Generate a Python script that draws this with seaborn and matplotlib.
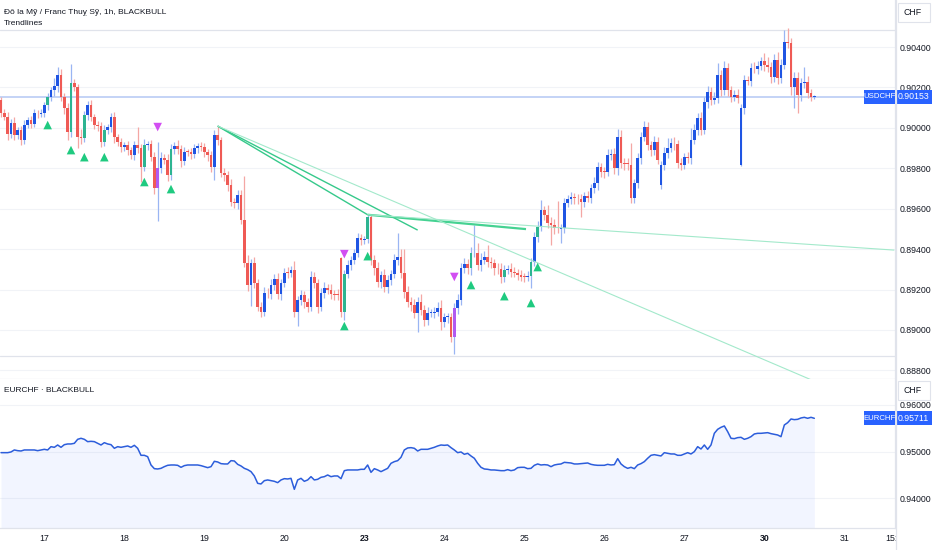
import numpy as np
import matplotlib
matplotlib.use("Agg")
import matplotlib.pyplot as plt
from matplotlib.patches import Rectangle
from matplotlib.lines import Line2D
from matplotlib.ticker import FormatStrFormatter
import seaborn as sns

# ─────────────────────────────────────────────
# DATA  (USDCHF 1h candles, prices in 1e-5 CHF points)
# ─────────────────────────────────────────────
close_pts = [
    90072, 90055, 89970, 90022, 89965, 89990, 89940, 90014, 90039, 90017,
    90072, 90068, 90072, 90113, 90154, 90187, 90205, 90262, 90154, 90096,
    89981, 90224, 90204, 89956, 89948, 90063, 90113, 90055, 90014, 90010,
    89931, 89990, 90006, 90055, 89956, 89931, 89907, 89915, 89890, 89865,
    89915, 89898, 89808, 89915, 89920, 89857, 89700, 89800, 89849, 89840,
    89766, 89893, 89910, 89895, 89835, 89882, 89880, 89872, 89898, 89910,
    89905, 89882, 89865, 89808, 89964, 89940, 89775, 89765, 89717, 89634,
    89628, 89667, 89544, 89329, 89222, 89332, 89230, 89115, 89090, 89181,
    89178, 89222, 89250, 89180, 89230, 89283, 89280, 89296, 89090, 89148,
    89172, 89139, 89115, 89263, 89230, 89115, 89181, 89205, 89200, 89180,
    89172, 89168, 89090, 89276, 89320, 89346, 89379, 89453, 89445, 89450,
    89557, 89346, 89304, 89238, 89271, 89214, 89247, 89276, 89346, 89360,
    89280, 89189, 89139, 89123, 89082, 89139, 89098, 89049, 89085, 89085,
    89090, 89107, 89040, 89065, 89065, 88966, 89110, 89148, 89304, 89325,
    89304, 89379, 89382, 89321, 89346, 89362, 89337, 89329, 89304, 89300,
    89263, 89296, 89300, 89288, 89280, 89271, 89263, 89260, 89265, 89337,
    89460, 89510, 89593, 89568, 89527, 89519, 89502, 89500, 89505, 89626,
    89646, 89659, 89651, 89648, 89634, 89662, 89655, 89700, 89725, 89808,
    89783, 89780, 89865, 89870, 89799, 89956, 89824, 89820, 89818, 89651,
    89725, 89849, 89956, 90006, 89915, 89890, 89932, 89841, 89816, 89874,
    89900, 89923, 89920, 89824, 89816, 89857, 89850, 89940, 89989, 90047,
    89989, 90130, 90179, 90138, 90146, 90261, 90187, 90294, 90187, 90154,
    90162, 90146, 90096, 90237, 90230, 90294, 90290, 90306, 90331, 90311,
    90303, 90253, 90336, 90245, 90311, 90426, 90418, 90204, 90245, 90162,
    90220, 90228, 90171, 90153, 90153,
]
wick_up_pts = [
    15, 20, 25, 20, 30, 15, 20, 25, 15, 20,
    20, 15, 20, 15, 20, 15, 40, 41, 30, 20,
    25, 92, 20, 15, 40, 20, 20, 25, 15, 20,
    20, 25, 15, 20, 25, 15, 20, 15, 20, 15,
    20, 91, 20, 30, 15, 20, 25, 130, 30, 20,
    30, 25, 20, 30, 20, 25, 15, 20, 20, 15,
    20, 20, 15, 20, 25, 45, 15, 25, 20, 30,
    20, 25, 25, 216, 40, 20, 30, 20, 25, 30,
    25, 30, 25, 30, 20, 25, 30, 20, 45, 20,
    25, 20, 20, 30, 25, 20, 25, 30, 20, 25,
    20, 30, 4, 20, 25, 20, 20, 25, 20, 15,
    13, 15, 25, 30, 20, 30, 25, 20, 30, 118,
    40, 120, 30, 25, 30, 25, 40, 25, 30, 20,
    25, 30, 40, 20, 20, 20, 25, 30, 25, 30,
    25, 30, 137, 48, 35, 30, 60, 25, 20, 25,
    30, 25, 20, 30, 25, 20, 25, 20, 25, 20,
    25, 30, 50, 20, 50, 30, 30, 138, 20, 25,
    20, 25, 20, 20, 25, 20, 25, 20, 30, 25,
    20, 25, 30, 25, 30, 40, 33, 25, 30, 105,
    20, 25, 25, 30, 25, 20, 30, 25, 20, 30,
    50, 25, 30, 20, 25, 20, 25, 60, 30, 25,
    30, 25, 30, 25, 30, 60, 25, 35, 25, 20,
    25, 30, 20, 25, 20, 25, 30, 25, 20, 40,
    40, 25, 30, 40, 30, 58, 70, 25, 30, 30,
    25, 75, 30, 20, 10,
]
wick_dn_pts = [
    20, 15, 30, 20, 25, 20, 25, 20, 15, 20,
    15, 20, 15, 20, 25, 20, 30, 25, 20, 25,
    41, 25, 20, 56, 30, 20, 25, 20, 20, 25,
    25, 20, 20, 25, 30, 20, 25, 20, 25, 20,
    25, 20, 75, 20, 25, 20, 25, 160, 25, 20,
    30, 25, 20, 25, 30, 20, 20, 25, 20, 20,
    20, 25, 30, 25, 68, 25, 20, 30, 30, 20,
    25, 30, 20, 20, 30, 102, 25, 20, 25, 20,
    20, 25, 25, 25, 30, 20, 25, 20, 25, 70,
    25, 30, 25, 20, 25, 30, 20, 25, 20, 25,
    25, 20, 25, 41, 20, 25, 20, 20, 25, 20,
    20, 25, 30, 25, 30, 25, 30, 25, 20, 25,
    25, 30, 25, 30, 25, 92, 25, 30, 25, 20,
    25, 20, 40, 25, 30, 25, 86, 30, 25, 20,
    25, 30, 20, 25, 30, 20, 25, 25, 30, 25,
    30, 25, 20, 25, 20, 25, 20, 25, 20, 60,
    20, 25, 20, 25, 25, 99, 25, 20, 70, 25,
    20, 25, 30, 25, 74, 25, 20, 25, 20, 30,
    25, 30, 20, 25, 25, 30, 25, 30, 25, 25,
    25, 25, 30, 20, 25, 30, 25, 20, 20, 25,
    25, 20, 30, 25, 25, 20, 25, 30, 20, 25,
    25, 20, 30, 25, 20, 25, 30, 25, 30, 25,
    20, 25, 5, 25, 20, 25, 20, 25, 20, 30,
    25, 30, 25, 30, 25, 20, 25, 40, 108, 90,
    30, 25, 25, 20, 10,
]
# bars whose open is not the previous close (session gaps)
gap_bars = [0, 102, 198, 222]
gap_open_pts = [90138, 89356, 89717, 89816]

# indicator-coloured candles and their markers
teal_bars = [14, 21, 25, 31, 43, 51, 103, 110, 141, 151, 159, 161]
purple_bars = [47, 136]
up_mark_pts = [90014, 89890, 89855, 89855, 89732, 89697,
               89019, 89365, 89222, 89167, 89133, 89311]
down_mark_bars = [47, 103, 136]
down_mark_pts = [90004, 89375, 89262]

# trendlines (bar index, price)
trend_x0 = [65, 65, 110, 65, 110]
trend_y0 = [0.90009, 0.90009, 0.89570, 0.90009, 0.89570]
trend_x1 = [125, 110, 157.5, 268, 268]
trend_y1 = [0.89494, 0.89570, 0.89499, 0.88577, 0.89395]

# EURCHF comparison line, same bars
eurchf_pts = [
    94975, 94975, 94975, 94990, 95033, 95018, 95011, 95033, 95033, 95033,
    95033, 95018, 95033, 95047, 95033, 95104, 95090, 95140, 95090, 95147,
    95162, 95162, 95176, 95262, 95284, 95262, 95212, 95219, 95212, 95176,
    95140, 95190, 95162, 95147, 95069, 95104, 95090, 95104, 95119, 95090,
    95133, 95069, 94918, 94918, 94889, 94710, 94631, 94624, 94638, 94674,
    94703, 94710, 94710, 94703, 94660, 94696, 94710, 94710, 94710, 94710,
    94696, 94674, 94653, 94674, 94789, 94775, 94739, 94732, 94732, 94803,
    94796, 94724, 94689, 94638, 94610, 94567, 94474, 94316, 94302, 94373,
    94388, 94373, 94359, 94330, 94388, 94416, 94409, 94423, 94187, 94388,
    94423, 94359, 94388, 94459, 94388, 94402, 94445, 94459, 94495, 94459,
    94474, 94474, 94416, 94588, 94603, 94603, 94603, 94603, 94617, 94617,
    94710, 94552, 94631, 94603, 94567, 94603, 94638, 94746, 94782, 94803,
    94875, 95033, 95076, 95083, 95069, 95011, 95047, 95047, 95047, 95069,
    95090, 95119, 95140, 95133, 95140, 95083, 95033, 94975, 94990, 94940,
    94961, 94904, 94854, 94746, 94660, 94624, 94617, 94603, 94603, 94595,
    94588, 94588, 94610, 94588, 94603, 94653, 94660, 94660, 94631, 94638,
    94703, 94732, 94710, 94717, 94710, 94674, 94710, 94724, 94732, 94767,
    94760, 94753, 94732, 94732, 94739, 94746, 94753, 94724, 94710, 94703,
    94703, 94703, 94724, 94710, 94717, 94846, 94732, 94674, 94638, 94660,
    94631, 94710, 94739, 94782, 94854, 94918, 94932, 94918, 94904, 94975,
    94961, 94947, 94947, 94918, 94918, 94947, 94975, 94947, 94997, 95104,
    95054, 95140, 95047, 95140, 95391, 95477, 95520, 95549, 95427, 95284,
    95276, 95298, 95305, 95262, 95284, 95319, 95377, 95391, 95391, 95398,
    95405, 95384, 95370, 95355, 95319, 95570, 95620, 95699, 95685, 95692,
    95721, 95735, 95714, 95735, 95714,
]

day_ticks = [13, 37, 61, 85, 109, 133, 157, 181, 205, 229, 253, 267]
day_labels = ["17", "18", "19", "20", "23", "24", "25", "26", "27", "30", "31", "15:"]
bold_labels = ["23", "30"]
usd_ticks = [0.888, 0.890, 0.892, 0.894, 0.896, 0.898, 0.900, 0.902, 0.904]
eur_ticks = [0.940, 0.950, 0.960]
border_levels = [0.90484, 0.88870]
last_usd = 0.90153
last_eur = 0.95711

# ─────────────────────────────────────────────
# PREP
# ─────────────────────────────────────────────
c = np.array(close_pts) / 1e5
o = np.r_[c[0], c[:-1]]
o[gap_bars] = np.array(gap_open_pts) / 1e5
h = np.maximum(o, c) + np.array(wick_up_pts) / 1e5
l = np.minimum(o, c) - np.array(wick_dn_pts) / 1e5
bars = np.arange(len(c))
eur = np.array(eurchf_pts) / 1e5

BLUE, RED = "#1f55e3", "#ef5a55"
TEAL, PURPLE = "#2db491", "#b05af2"
up = c >= o
body_col = np.where(up, BLUE, RED).astype(object)
body_col[teal_bars] = TEAL
body_col[purple_bars] = PURPLE
wick_col = np.where(up, "#9ab5f3", "#f4a7a4")
body_h = np.where(np.abs(c - o) < 4e-5, 4e-5, c - o)

# ─────────────────────────────────────────────
# FIGURE
# ─────────────────────────────────────────────
sns.set_theme(style="white")
plt.rcParams["font.family"] = ["Liberation Sans Narrow", "Liberation Sans", "DejaVu Sans"]
TXT = "#131722"
GRID = "#f1f3f7"
EDGE = "#e0e3eb"
FS = 6.3
TAG_FS = 5.6

W, H = 932, 550
fig = plt.figure(figsize=(W / 100, H / 100), dpi=100)
ax = fig.add_axes([0, 1 - 379 / H, 895 / W, 379 / H])
ax2 = fig.add_axes([0, 1 - 528 / H, 895 / W, 149 / H])
XL = (-0.3, 268.2)

# main pane
ax.set_xlim(*XL)
ax.set_ylim(0.88757, 0.90633)
ax.set_yticks(usd_ticks)
ax.yaxis.set_major_formatter(FormatStrFormatter("%.5f"))
ax.yaxis.tick_right()
ax.tick_params(axis="y", length=0, pad=3.5, labelsize=FS, labelcolor=TXT)
ax.set_xticks([])
ax.grid(axis="y", color=GRID, lw=0.8)
ax.grid(axis="x", visible=False)
for lvl in border_levels:
    ax.axhline(lvl, color=EDGE, lw=0.9, zorder=1)
ax.axhline(last_usd, color="#bfd0f6", lw=1.3, zorder=1.5)

ax.vlines(bars, l, h, colors=wick_col, lw=0.9, zorder=2)
ax.bar(bars, body_h, bottom=o, width=0.8, color=body_col, linewidth=0, zorder=3)

trend_style = [("#36c98b", 1.0), ("#36c98b", 1.0), ("#45d292", 1.6),
               ("#a3e9cb", 0.8), ("#a3e9cb", 0.8)]
for x0, y0, x1, y1, (col, lw) in zip(trend_x0, trend_y0, trend_x1, trend_y1, trend_style):
    ax.plot([x0, x1], [y0, y1], color=col, lw=lw, zorder=4, solid_capstyle="butt")

sns.scatterplot(x=teal_bars, y=np.array(up_mark_pts) / 1e5, marker="^", s=38,
                color="#1fca80", edgecolor="none", ax=ax, zorder=5)
sns.scatterplot(x=down_mark_bars, y=np.array(down_mark_pts) / 1e5, marker="v", s=38,
                color="#d24ef2", edgecolor="none", ax=ax, zorder=5)

for s in ["top", "left"]:
    ax.spines[s].set_visible(False)
for s in ["right", "bottom"]:
    ax.spines[s].set_color(EDGE)
    ax.spines[s].set_linewidth(0.9)

# lower pane
ax2.set_xlim(*XL)
ax2.set_ylim(0.93355, 0.96559)
ax2.fill_between(bars, eur, 0.93355, color="#2962ff", alpha=0.06, lw=0)
sns.lineplot(x=bars, y=eur, color="#2c5ddb", lw=1.1, ax=ax2)
ax2.set_yticks(eur_ticks)
ax2.yaxis.set_major_formatter(FormatStrFormatter("%.5f"))
ax2.yaxis.tick_right()
ax2.tick_params(axis="y", length=0, pad=3.5, labelsize=FS, labelcolor=TXT)
ax2.set_xticks(day_ticks)
ax2.set_xticklabels(day_labels)
ax2.tick_params(axis="x", length=0, pad=4, labelsize=FS, labelcolor=TXT)
for lbl in ax2.get_xticklabels():
    if lbl.get_text() in bold_labels:
        lbl.set_fontweight("bold")
ax2.grid(axis="y", color=GRID, lw=0.8)
ax2.grid(axis="x", visible=False)
ax2.set_xlabel("")
ax2.set_ylabel("")
for s in ["top", "left"]:
    ax2.spines[s].set_visible(False)
for s in ["right", "bottom"]:
    ax2.spines[s].set_color(EDGE)
    ax2.spines[s].set_linewidth(0.9)

# last-price labels
def price_tag(a, name, value, half_h):
    tr = a.get_yaxis_transform()
    a.add_patch(Rectangle((864 / 895, value - half_h), 31 / 895, 2 * half_h,
                          transform=tr, fc="#2962ff", ec="none", clip_on=False, zorder=6))
    a.add_patch(Rectangle((896 / 895, value - half_h), 36 / 895, 2 * half_h,
                          transform=tr, fc="#2962ff", ec="none", clip_on=False, zorder=6))
    a.text(879.5 / 895, value, name, transform=tr, ha="center", va="center",
           color="white", fontsize=TAG_FS, clip_on=False, zorder=7)
    a.text(913.5 / 895, value, f"{value:.5f}", transform=tr, ha="center", va="center",
           color="white", fontsize=FS, clip_on=False, zorder=7)

price_tag(ax, "USDCHF", last_usd, 7 * 0.0000495)
price_tag(ax2, "EURCHF", last_eur, 7 / 4650)

# price-axis divider and currency boxes
fig.add_artist(Line2D([895.5 / W, 895.5 / W], [0, 1], color=EDGE, lw=0.9))
for top in [3, 381]:
    fig.add_artist(Rectangle((898 / W, 1 - (top + 19) / H), 32 / W, 19 / H,
                             fc="white", ec=EDGE, lw=0.8, zorder=5))
    fig.text(903 / W, 1 - (top + 9.5) / H, "CHF", ha="left", va="center",
             fontsize=FS, color=TXT, zorder=6)

# pane legends
fig.text(4 / W, 1 - 12 / H, "Đô la Mỹ / Franc Thuỵ Sỹ, 1h, BLACKBULL",
         ha="left", va="center", fontsize=6.0, color=TXT)
fig.text(4 / W, 1 - 23.5 / H, "Trendlines", ha="left", va="center", fontsize=6.0, color=TXT)
fig.text(4 / W, 1 - 391 / H, "EURCHF · BLACKBULL", ha="left", va="center",
         fontsize=6.0, color=TXT)

fig.savefig("out.png", dpi=100)
plt.close()
